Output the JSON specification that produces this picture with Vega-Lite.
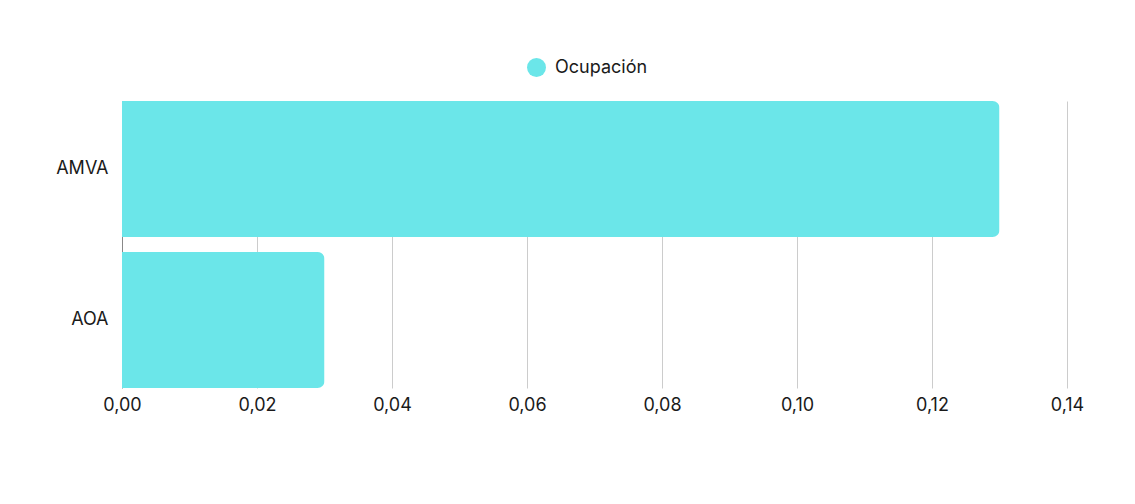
{
  "$schema": "https://vega.github.io/schema/vega-lite/v6.json",
  "width": 945,
  "height": 287,
  "autosize": {"type": "none"},
  "padding": {"left": 122, "top": 101, "right": 68, "bottom": 116},
  "background": "white",
  "data": {"values": [
    {"region": "AMVA", "ocupacion": 0.13},
    {"region": "AOA", "ocupacion": 0.03}
  ]},
  "mark": {"type": "bar", "cornerRadiusEnd": 7},
  "encoding": {
    "y": {"field": "region", "type": "nominal", "sort": null,
      "scale": {"paddingInner": 0.1, "paddingOuter": 0},
      "axis": {"title": null, "domain": false, "ticks": false, "labelPadding": 14, "labelFontSize": 18, "labelColor": "#1a1a1a", "labelFont": "Inter"}},
    "x": {"field": "ocupacion", "type": "quantitative",
      "scale": {"domain": [0, 0.14], "nice": false},
      "axis": {"title": null, "domain": false, "ticks": false, "format": ".2f", "values": [0, 0.02, 0.04, 0.06, 0.08, 0.1, 0.12, 0.14],
        "labelFlush": false, "labelPadding": 8, "labelFontSize": 18, "labelColor": "#1a1a1a", "labelFont": "Inter",
        "gridColor": {"condition": {"test": "datum.value === 0", "value": "#888888"}, "value": "#cccccc"}}},
    "color": {"datum": "Ocupación", "type": "nominal",
      "scale": {"range": ["#6be6e9"]},
      "legend": {"title": null, "orient": "none", "legendX": 405, "legendY": -43, "symbolType": "circle", "symbolSize": 361, "symbolStrokeWidth": 0,
        "labelFontSize": 18, "labelColor": "#1a1a1a", "labelFont": "Inter", "labelOffset": 9}}
  },
  "config": {
    "view": {"stroke": null},
    "locale": {"number": {"decimal": ",", "thousands": ".", "grouping": [3], "currency": ["", "€"]}}
  }
}
